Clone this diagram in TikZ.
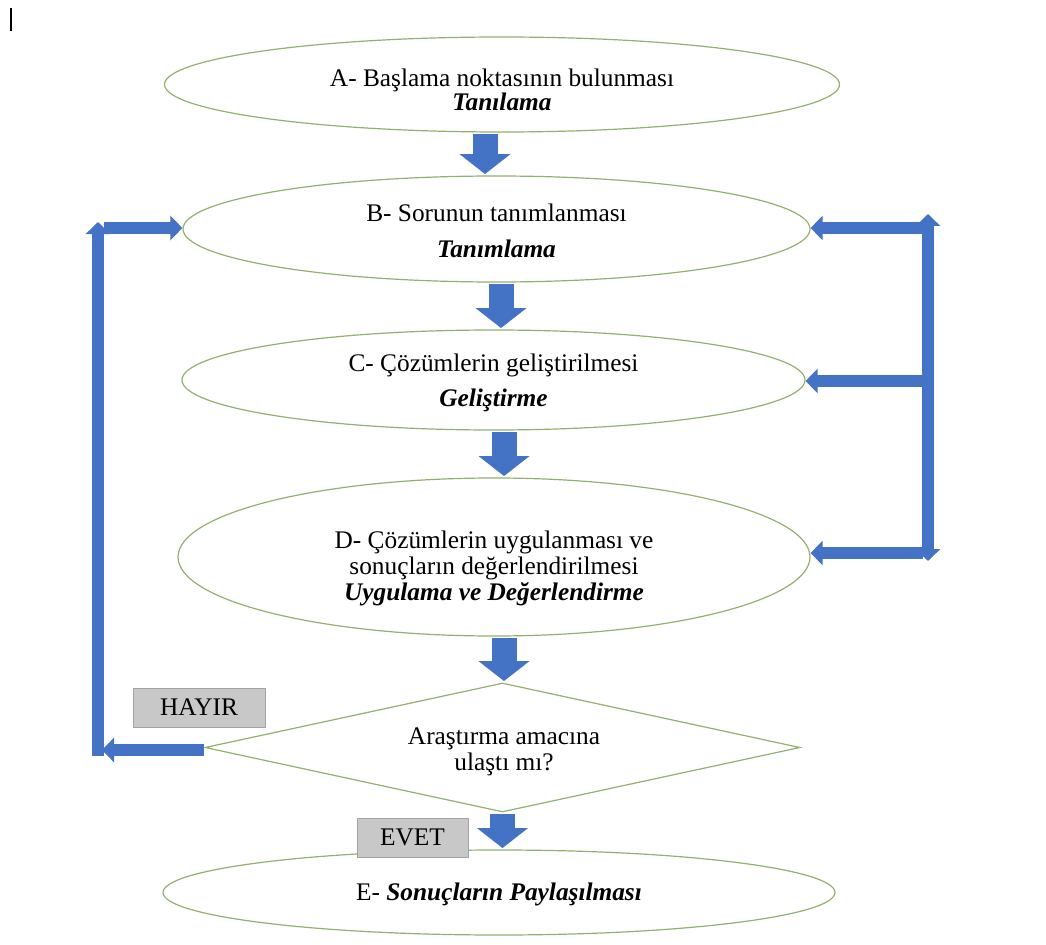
\documentclass[tikz,border=0pt]{standalone}
\usepackage{fontspec}
\setmainfont{Liberation Serif}
\usepackage{xcolor}
\usetikzlibrary{shapes.geometric,arrows.meta}
\definecolor{flowblue}{HTML}{4472C4}
\definecolor{stageline}{HTML}{92B06E}
\definecolor{taggray}{HTML}{C8C8C8}
\definecolor{tagline}{HTML}{A3A3A3}
\lineskiplimit=-20pt

\begin{document}
\begin{tikzpicture}[x=0.75pt,y=-0.75pt,
  stage/.style={ellipse,draw=stageline,line width=0.9pt},
  ask/.style={diamond,aspect=4.6,draw=stageline,line width=0.9pt},
  tag/.style={rectangle,fill=taggray,draw=tagline,line width=0.75pt,minimum height=29.25pt},
  blk/.style={flowblue,line width=18.75pt,shorten <=1pt,shorten >=1pt,-{Triangle[width=37.5pt,length=15pt]}},
  lnk/.style={flowblue,line width=8.5pt,-{Triangle[width=18pt,length=9pt]}},
  lnkboth/.style={flowblue,line width=8.5pt,{Triangle[width=18pt,length=9pt]}-{Triangle[width=18pt,length=9pt]}}]
\tikzstyle{every node}+=[inner sep=0pt,align=center,font=\fontsize{19}{19.5}\selectfont]
\useasboundingbox (0,0) rectangle (1046,945);
\draw [black,line width=1.6pt] (11,8) -- (11,31);
% stages
\node [stage,minimum width=506.25pt,minimum height=71.25pt] (A) at (502,84.5) {};
\node (At) at (502,90) {A- Başlama noktasının bulunması\\[-1.5pt]\textbf{\textit{Tanılama}}};
\node [stage,minimum width=470.25pt,minimum height=79.5pt] (B) at (496.5,229) {};
\node (Bt) at (496.5,231) {B- Sorunun tanımlanması\\[7.5pt]\textbf{\textit{Tanımlama}}};
\node [stage,minimum width=467.25pt,minimum height=75pt] (C) at (493.5,380) {};
\node (Ct) at (493.5,383) {C- Çözümlerin geliştirilmesi\\[6.75pt]\textbf{\textit{Geliştirme}}};
\node [stage,minimum width=474pt,minimum height=118.5pt] (D) at (494,557) {};
\node (Dt) at (494,568.5) {D- Çözümlerin uygulanması ve\\sonuçların değerlendirilmesi\\\textbf{\textit{Uygulama ve Değerlendirme}}};
\node [ask,minimum width=446.25pt,minimum height=96.75pt] (Q) at (502.5,747.5) {};
\node (Qt) at (504,751.5) {Araştırma amacına\\ulaştı mı?};
\node [stage,minimum width=504pt,minimum height=63.75pt] (E) at (499,892.5) {};
\node (Et) at (499,894) {E- \textbf{\textit{Sonuçların Paylaşılması}}};
\node [tag,minimum width=99pt] (no) at (199,707.5) {HAYIR};
\node [tag,minimum width=83.25pt] (yes) at (412.5,837.5) {EVET};
% main flow
\path ([xshift=-12.75pt]A.south) coordinate (ab);
\draw [blk] (ab) -- (ab |- B.north);
\path ([xshift=3.4pt]B.south) coordinate (bc);
\draw [blk] (bc) -- (bc |- C.north);
\path ([xshift=7.9pt]C.south) coordinate (cd);
\draw [blk] (cd) -- (cd |- D.north);
\path ([xshift=7.5pt]D.south) coordinate (dq);
\draw [blk] (dq) -- (dq |- Q.north);
\path (Q.south) coordinate (qe);
\draw [blk] (qe) -- (qe |- E.north);
% left loop
\coordinate (lb) at (98,756);
\coordinate (lt) at (98,222);
\coordinate (lh) at (104,228);
\coordinate (lq) at (102,750);
\draw [lnk] (Q.west |- lq) -- (lq);
\draw [lnk] (lb) -- (lt);
\draw [lnk] (lh) -- (lh -| B.west);
% right loop
\coordinate (rt) at (928,214);
\coordinate (rb) at (928,561);
\coordinate (rB) at (923,228);
\coordinate (rC) at (923,381);
\coordinate (rD) at (923,553);
\draw [lnkboth] (rt) -- (rb);
\draw [lnk] (rB) -- (rB -| B.east);
\draw [lnk] (rC) -- (rC -| C.east);
\draw [lnk] (rD) -- (rD -| D.east);
\end{tikzpicture}
\end{document}
